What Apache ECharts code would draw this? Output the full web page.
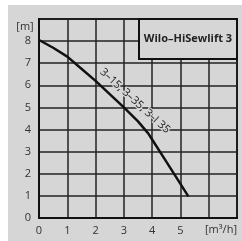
<!DOCTYPE html>
<html><head><meta charset="utf-8">
<script src="https://cdn.jsdelivr.net/npm/echarts@6/dist/echarts.min.js"></script>
<style>html,body{margin:0;padding:0;background:#fff}#c{width:242px;height:241px}</style>
</head><body><div id="c"></div>
<script>
var flowValues = [0, 0.5, 1, 1.5, 2, 2.5, 3, 3.5, 3.86, 4, 4.5, 5, 5.28];
var headValues = [8.05, 7.7, 7.3, 6.75, 6.2, 5.6, 5.0, 4.37, 3.83, 3.55, 2.55, 1.54, 0.98];
var xTickLabels = ['0', '1', '2', '3', '4', '5', '', ''];
var yTickLabels = ['0', '1', '2', '3', '4', '5', '6', '7', '8', ''];
var title = 'Wilo–HiSewlift 3';
var curveLabel = '3–15, 3–35, 3–I 35';
var xUnit = '[m³/h]';
var yUnit = '[m]';

var chart = echarts.init(document.getElementById('c'), null, {renderer: 'canvas'});
var data = flowValues.map(function (x, i) { return [x, headValues[i]]; });
var txt = '#333';
var bg = '#d6d6d6';
var ff = '"Open Sans", "Noto Sans", sans-serif';
chart.setOption({
  animation: false,
  backgroundColor: '#fff',
  grid: {left: 39, top: 19, right: 5, bottom: 23, show: true, borderColor: '#111', borderWidth: 2, backgroundColor: 'transparent'},
  xAxis: {
    type: 'value', min: 0, max: 7, interval: 1,
    axisLine: {show: true, lineStyle: {color: '#111', width: 2}},
    axisTick: {show: false},
    splitLine: {show: true, lineStyle: {color: '#222', width: 1.5}},
    axisLabel: {color: txt, fontSize: 11, fontFamily: ff, margin: 7,
      formatter: function (v) { return xTickLabels[Math.round(v)] || ''; }}
  },
  yAxis: {
    type: 'value', min: 0, max: 9, interval: 1,
    axisLine: {show: true, lineStyle: {color: '#111', width: 2}},
    axisTick: {show: false},
    splitLine: {show: true, lineStyle: {color: '#222', width: 1.5}},
    axisLabel: {color: txt, fontSize: 11, fontFamily: ff, margin: 8,
      formatter: function (v) { return yTickLabels[Math.round(v)] || ''; }}
  },
  series: [{
    type: 'line', data: data, smooth: false, symbol: 'none', z: 5,
    lineStyle: {color: '#111', width: 2.5, join: 'round'}
  }],
  graphic: [
    {type: 'rect', z: -10, silent: true, shape: {x: 8, y: 5, width: 234, height: 236}, style: {fill: bg}},
    {type: 'rect', z: 100, shape: {x: 139, y: 19, width: 98, height: 40}, style: {fill: bg, stroke: '#111', lineWidth: 2}},
    {type: 'text', z: 101, x: 188, y: 39, style: {text: title, font: 'bold 11px ' + ff, fill: '#222', textAlign: 'center', textVerticalAlign: 'middle'}},
    {type: 'text', z: 101, x: 135, y: 101, rotation: -0.74, style: {text: curveLabel, font: '11px ' + ff, fill: '#222', stroke: bg, lineWidth: 2.5, textAlign: 'center', textVerticalAlign: 'middle'}},
    {type: 'text', z: 101, x: 221, y: 230, style: {text: xUnit, font: '11px ' + ff, fill: txt, textAlign: 'center', textVerticalAlign: 'middle'}},
    {type: 'text', z: 101, x: 25, y: 27, style: {text: yUnit, font: '11px ' + ff, fill: txt, textAlign: 'center', textVerticalAlign: 'middle'}}
  ]
});
</script></body></html>
